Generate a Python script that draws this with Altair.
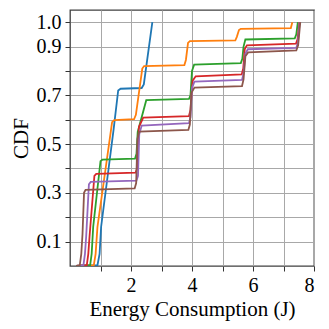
import altair as alt
import pandas as pd

series = ["s1", "s2", "s3", "s4", "s5", "s6"]
colors = ["#1f77b4", "#ff7f0e", "#2ca02c", "#d62728", "#9467bd", "#8c564b"]

x_s1 = [0.2, 0.9, 0.97, 1.02, 1.43, 1.58, 1.66, 2.35, 2.42, 2.70]
y_s1 = [0.0, 0.003, 0.05, 0.16, 0.56, 0.72, 0.727, 0.73, 0.745, 1.0]

x_s2 = [0.2, 0.78, 0.84, 0.9, 1.38, 1.45, 2.1, 2.16, 2.37, 2.43, 3.75, 3.8, 3.87, 3.93, 5.42, 5.47, 5.54, 5.6, 7.24, 7.29]
y_s2 = [0.0, 0.003, 0.05, 0.16, 0.59, 0.598, 0.602, 0.62, 0.81, 0.82, 0.824, 0.845, 0.915, 0.922, 0.925, 0.94, 0.968, 0.973, 0.976, 1.0]

x_s3 = [0.2, 0.66, 0.71, 0.76, 1.0, 1.06, 2.13, 2.18, 2.22, 2.5, 3.9, 3.95, 4.0, 4.07, 5.6, 5.65, 5.69, 5.75, 7.37, 7.42, 7.47]
y_s3 = [0.0, 0.003, 0.05, 0.16, 0.43, 0.436, 0.44, 0.46, 0.55, 0.68, 0.685, 0.7, 0.8, 0.826, 0.832, 0.85, 0.9, 0.929, 0.934, 0.95, 1.0]

x_s4 = [0.2, 0.55, 0.6, 0.64, 0.8, 0.86, 2.15, 2.2, 2.26, 2.4, 3.9, 3.95, 4.02, 4.12, 5.63, 5.68, 5.73, 5.8, 7.41, 7.46, 7.52]
y_s4 = [0.0, 0.003, 0.05, 0.12, 0.37, 0.378, 0.383, 0.4, 0.57, 0.609, 0.615, 0.64, 0.76, 0.778, 0.786, 0.81, 0.89, 0.905, 0.912, 0.93, 1.0]

x_s5 = [0.2, 0.44, 0.49, 0.53, 0.62, 0.68, 2.18, 2.23, 2.27, 2.35, 3.9, 3.95, 4.0, 4.08, 5.64, 5.69, 5.75, 5.83, 7.42, 7.47, 7.53]
y_s5 = [0.0, 0.003, 0.05, 0.12, 0.335, 0.345, 0.35, 0.37, 0.54, 0.576, 0.586, 0.61, 0.73, 0.756, 0.763, 0.79, 0.87, 0.889, 0.895, 0.915, 1.0]

x_s6 = [0.2, 0.32, 0.37, 0.41, 0.46, 0.51, 2.12, 2.17, 2.21, 2.27, 3.88, 3.93, 3.98, 4.08, 5.64, 5.69, 5.75, 5.84, 7.42, 7.48, 7.55]
y_s6 = [0.0, 0.003, 0.05, 0.13, 0.3, 0.312, 0.318, 0.34, 0.52, 0.551, 0.558, 0.58, 0.71, 0.732, 0.738, 0.765, 0.86, 0.876, 0.884, 0.905, 1.0]

x_ticks = [1, 2, 3, 4, 5, 6, 7, 8]
x_labels = [2, 4, 6, 8]
y_ticks = [0.1, 0.2, 0.3, 0.4, 0.5, 0.6, 0.7, 0.8, 0.9, 1.0]
y_labels = ["0.1", "0.3", "0.5", "0.7", "0.9", "1.0"]

xs = [x_s1, x_s2, x_s3, x_s4, x_s5, x_s6]
ys = [y_s1, y_s2, y_s3, y_s4, y_s5, y_s6]
rows = []
for name, xv, yv in zip(series, xs, ys):
    for i, (a, b) in enumerate(zip(xv, yv)):
        rows.append({"series": name, "x": a, "y": b, "order": i})
df = pd.DataFrame(rows)

FONT = "Liberation Serif"

x_expr = "indexof([" + ",".join(str(v) for v in x_labels) + "], datum.value) >= 0 ? format(datum.value, 'd') : ''"
y_expr = "indexof([" + ",".join("'" + s + "'" for s in y_labels) + "], format(datum.value, '.1f')) >= 0 ? format(datum.value, '.1f') : ''"

chart = alt.Chart(df).mark_line(strokeWidth=1.8, clip=True).encode(
    x=alt.X("x:Q", scale=alt.Scale(domain=[0, 8], nice=False, zero=False),
            axis=alt.Axis(values=x_ticks, labelExpr=x_expr, title="Energy Consumption (J)",
                          titleFontSize=21, labelFontSize=20, titlePadding=3, labelPadding=4)),
    y=alt.Y("y:Q", scale=alt.Scale(domain=[0, 1.05], nice=False),
            axis=alt.Axis(values=y_ticks, labelExpr=y_expr, title="CDF",
                          titleFontSize=21, labelFontSize=20, titlePadding=5, labelPadding=4)),
    color=alt.Color("series:N", scale=alt.Scale(domain=series, range=colors), legend=None),
    order="order:Q",
).properties(
    width=244, height=256,
    autosize=alt.AutoSizeParams(type="none"),
    padding={"left": 62, "top": 2, "right": 7, "bottom": 55},
).configure_axis(
    labelFont=FONT, titleFont=FONT, titleFontWeight="normal",
    labelColor="black", titleColor="black",
    gridColor="#a8a8a8", gridWidth=1, gridOpacity=1,
    tickColor="#333333", tickSize=5, tickWidth=1,
    domain=False,
).configure_view(
    stroke="#404040", strokeWidth=1.3,
)

chart.save("out.html", embed_options={"renderer": "svg", "actions": False})
